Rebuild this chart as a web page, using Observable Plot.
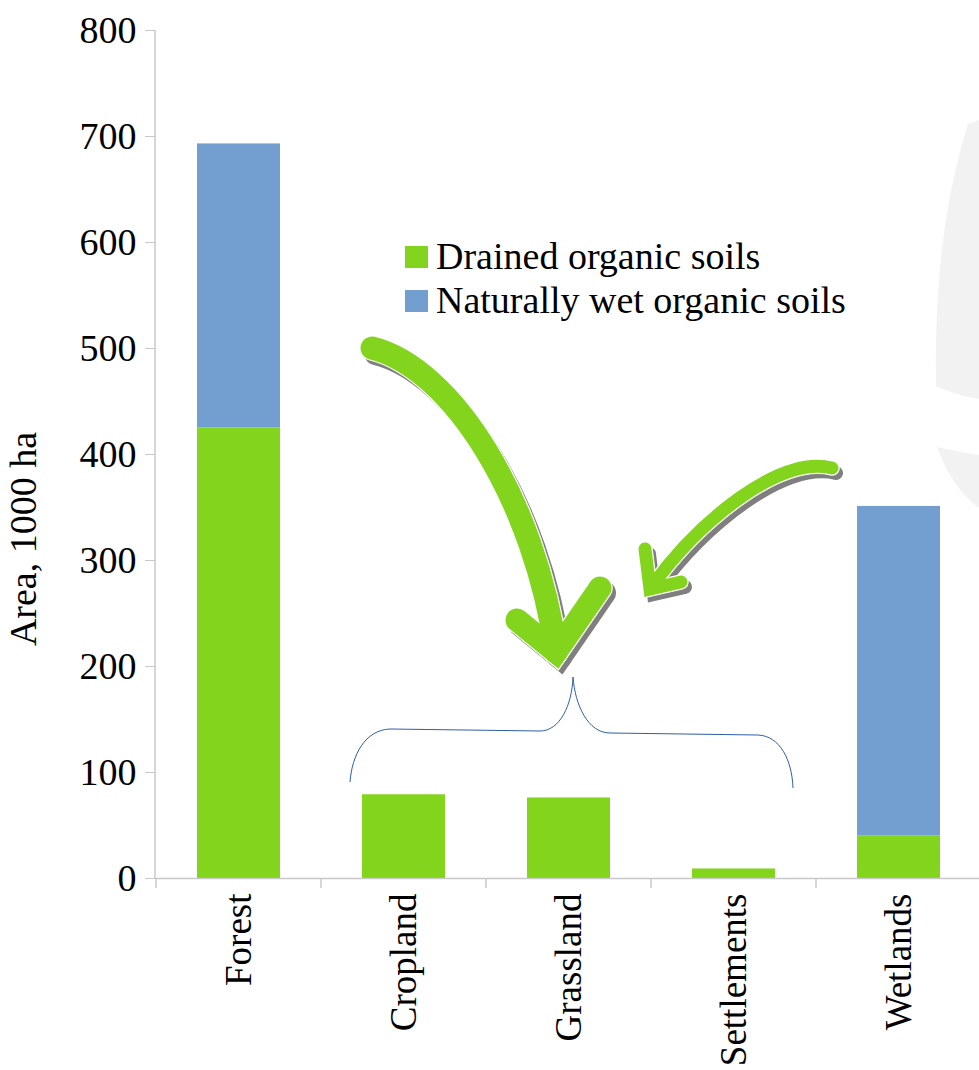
<!DOCTYPE html>
<html>
<head>
<meta charset="utf-8">
<script src="https://cdn.jsdelivr.net/npm/d3@7"></script>
<script src="https://cdn.jsdelivr.net/npm/@observablehq/plot@0.6"></script>
<style>
  html, body { margin: 0; padding: 0; background: #fff; }
  #chart svg { display: block; }
</style>
</head>
<body>
<div id="chart"></div>
<script>
// Organic soils by land-use category, thousand hectares
const categories = ["Forest", "Cropland", "Grassland", "Settlements", "Wetlands"];
const drained = [425, 79, 76, 9, 40];
const naturallyWet = [268, 0, 0, 0, 311];
const seriesNames = ["Drained organic soils", "Naturally wet organic soils"];
const seriesColors = ["#83d41c", "#739fd0"];
const yTicks = [0, 100, 200, 300, 400, 500, 600, 700, 800];

const rows = [];
categories.forEach((c, i) => {
  rows.push({category: c, type: seriesNames[0], value: drained[i]});
  rows.push({category: c, type: seriesNames[1], value: naturallyWet[i]});
});

const W = 979, H = 1070;
const font = "'Liberation Serif', 'Times New Roman', serif";

const chart = Plot.plot({
  width: W,
  height: H,
  marginLeft: 155,
  marginRight: -3,
  marginTop: 30,
  marginBottom: 192,
  style: {fontFamily: font, fontSize: "37px", color: "#000", background: "#fff", overflow: "hidden"},
  x: {domain: categories, paddingInner: 0.5, paddingOuter: 0.25, label: null},
  y: {domain: [0, 800], label: null},
  color: {domain: seriesNames, range: seriesColors},
  marks: [
    Plot.barY(rows, {x: "category", y: "value", fill: "type"}),
    Plot.ruleY([0], {stroke: "#c8c8c8", strokeWidth: 1.5}),
    Plot.axisY({ticks: yTicks, tickSize: 10, tickPadding: 9, stroke: "#c8c8c8", fontSize: 38, label: null}),
    Plot.axisX({tickSize: 0, tickRotate: -90, tickPadding: 15, fontSize: 37, label: null})
  ]
});
document.getElementById("chart").appendChild(chart);

const svg = d3.select(chart);
const xs = chart.scale("x");
const ys = chart.scale("y");
const y0 = ys.apply(0), yTop = ys.apply(800);
const left = 155;

// faint watermark shapes behind the plot on the right edge
const wm = svg.insert("g", ":first-child").attr("fill", "#f2f2f2");
wm.append("path").attr("d", "M979,120 L968,124 Q933,235 936,386 Q955,395 979,399 Z");
wm.append("path").attr("d", "M937,447 Q960,452 979,455 L979,508 Q952,488 937,447 Z");

// y axis line
svg.append("line")
  .attr("x1", left).attr("x2", left).attr("y1", yTop).attr("y2", y0)
  .attr("stroke", "#c8c8c8").attr("stroke-width", 1.5);

// category separator ticks below the x axis
const step = xs.step;
const bounds = categories.map(c => xs.apply(c) - (step - xs.bandwidth) / 2);
svg.append("g").selectAll("line").data(bounds).join("line")
  .attr("x1", d => d).attr("x2", d => d)
  .attr("y1", y0).attr("y2", y0 + 10)
  .attr("stroke", "#c8c8c8").attr("stroke-width", 1.5);

// y axis title
svg.append("text")
  .attr("transform", `translate(27,${(y0 + yTop) / 2 + 85}) rotate(-90)`)
  .attr("text-anchor", "middle").attr("dominant-baseline", "middle")
  .attr("font-family", font).attr("font-size", 38)
  .text("Area, 1000 ha");

// legend
const lg = svg.append("g").attr("font-family", font).attr("font-size", 38).attr("text-anchor", "start");
seriesNames.forEach((name, i) => {
  const yy = 246 + i * 44;
  lg.append("rect").attr("x", 405).attr("y", yy).attr("width", 23).attr("height", 22).attr("fill", seriesColors[i]);
  lg.append("text").attr("x", 436).attr("y", yy + 23).text(name);
});

// curved arrows pointing at the small categories
function arrow(g, shaft, head, w) {
  const layers = [
    {dx: 4, dy: 5, color: "#7f7f7f", sw: w + 1},
    {dx: 0, dy: 0, color: "#ffffff", sw: w + 2.5},
    {dx: 0, dy: 0, color: seriesColors[0], sw: w}
  ];
  layers.forEach(l => {
    const a = g.append("g").attr("transform", `translate(${l.dx},${l.dy})`)
      .attr("fill", "none").attr("stroke", l.color).attr("stroke-width", l.sw)
      .attr("stroke-linecap", "round").attr("stroke-linejoin", "miter");
    a.append("path").attr("d", shaft);
    a.append("path").attr("d", head);
  });
}
const arrows = svg.append("g");
arrow(arrows, "M372,348 C452,368 535,500 556,652", "M517,620 L556,652 L600,588", 23);
arrow(arrows, "M832,468 C780,455 700,520 652,586", "M645,549 L650,589 L681,582", 13);

// brace grouping cropland, grassland and settlements
svg.append("path")
  .attr("d", "M350,782 C352,755 365,730 390,729 L540,731 C560,731 572,705 573,677 C575,705 588,733 610,733 L758,735 C780,736 792,760 793,788")
  .attr("fill", "none").attr("stroke", "#2f5ea8").attr("stroke-width", 1);
</script>
</body>
</html>
